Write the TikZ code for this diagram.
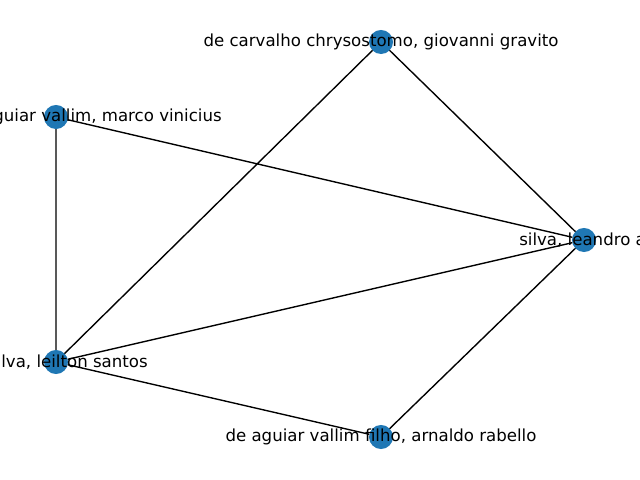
\documentclass[tikz,border=0pt]{standalone}
\usepackage{fontspec}
\setmainfont{DejaVu Sans}
\definecolor{nodeblue}{RGB}{31,119,180}
\begin{document}
\begin{tikzpicture}[x=0.254mm, y=-0.254mm, vertex/.style={circle, fill=nodeblue, minimum size=6.1mm, inner sep=0mm, outer sep=0mm}, tag/.style={font=\fontsize{12}{14}\selectfont, inner sep=0mm}]
		\useasboundingbox (0,0) rectangle (640,480);
		\clip (0,0) rectangle (640,480);
		\node[vertex] at (381,42) (a) {};
		\node[vertex] at (56,117) (b) {};
		\node[vertex] at (584,240) (c) {};
		\node[vertex] at (56,362) (d) {};
		\node[vertex] at (381,437) (e) {};
		\draw[line width=1pt] (a)--(c)--(e)--(d)--(a) (b)--(c)--(d)--(b);
		\node[tag] at (381,42) (at) {de carvalho chrysostomo, giovanni gravito};
		\node[tag, anchor=east] at (222,117) (bt) {guiar vallim, marco vinicius};
		\node[tag, anchor=west] at (519,240) (ct) {silva, leandro a};
		\node[tag, anchor=east] at (148,362) (dt) {ilva, leilton santos};
		\node[tag] at (381,437) (et) {de aguiar vallim filho, arnaldo rabello};
	\end{tikzpicture}
\end{document}
